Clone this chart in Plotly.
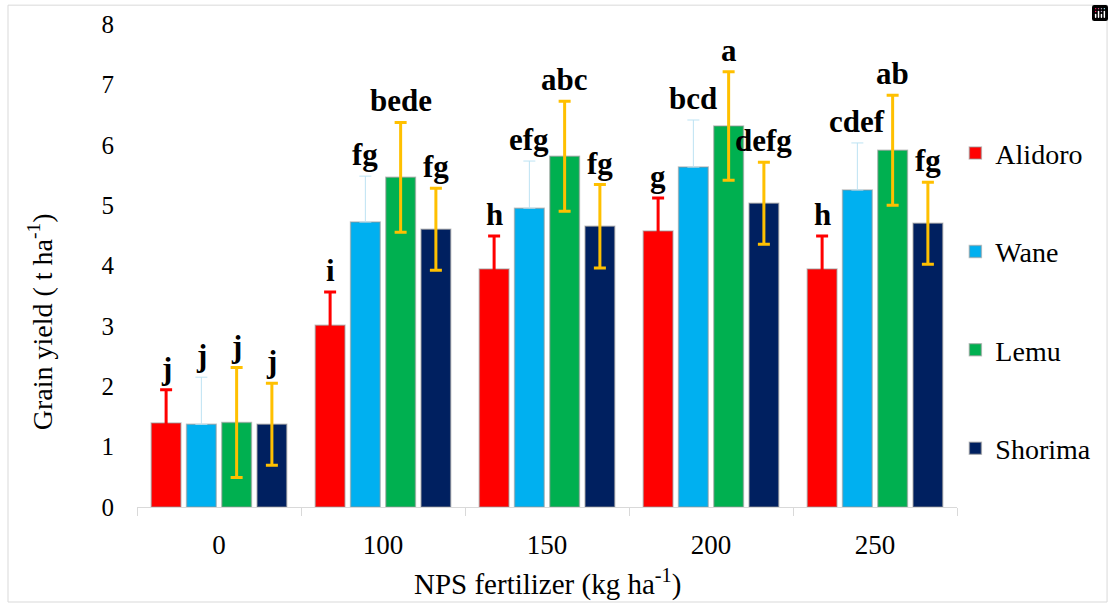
import plotly.graph_objects as go

categories = ["0", "100", "150", "200", "250"]
varieties = ["Alidoro", "Wane", "Lemu", "Shorima"]

alidoro = [1.39, 3.01, 3.94, 4.57, 3.94]
wane = [1.37, 4.72, 4.95, 5.63, 5.25]
lemu = [1.40, 5.46, 5.81, 6.31, 5.91]
shorima = [1.37, 4.60, 4.65, 5.03, 4.70]

alidoro_err = [0.55, 0.55, 0.55, 0.55, 0.55]
wane_err = [0.78, 0.76, 0.78, 0.78, 0.78]
lemu_err = [0.91, 0.91, 0.91, 0.90, 0.91]
shorima_err = [0.68, 0.68, 0.69, 0.68, 0.68]

alidoro_letters = ["j", "i", "h", "g", "h"]
wane_letters = ["j", "fg", "efg", "bcd", "cdef"]
lemu_letters = ["j", "bede", "abc", "a", "ab"]
shorima_letters = ["j", "fg", "fg", "defg", "fg"]

x_title = "NPS fertilizer (kg ha<sup>-1</sup>)"
y_title = "Grain yield ( t ha<sup>-1</sup>)"

values = [alidoro, wane, lemu, shorima]
errors = [alidoro_err, wane_err, lemu_err, shorima_err]
letters = [alidoro_letters, wane_letters, lemu_letters, shorima_letters]
colors = ["#FF0000", "#00B0F0", "#00B050", "#002060"]
err_colors = ["#FF0000", "#BDE3F3", "#FFC000", "#FFC000"]
err_thick = [3, 1, 3, 3]
show_lower = [True, False, True, True]

SERIF = "serif"
BOLD_SERIF = "Liberation Serif"

fig = go.Figure()
for k in range(4):
    err = dict(type="data", array=errors[k], visible=True,
               color=err_colors[k], thickness=err_thick[k], width=6)
    if not show_lower[k]:
        err.update(symmetric=False, arrayminus=[0] * len(errors[k]))
    fig.add_trace(go.Bar(
        name=varieties[k], x=categories, y=values[k],
        marker=dict(color=colors[k], line=dict(color="rgba(150,150,150,0.55)", width=1.5)),
        error_y=err,
        legendgroup=varieties[k],
    ))

bargap = 0.14
slot = (1 - bargap) / 4
annotations = []
for k in range(4):
    off = -(1 - bargap) / 2 + slot * (k + 0.5)
    for i in range(len(categories)):
        annotations.append(dict(
            x=i + off, y=values[k][i] + errors[k][i], xref="x", yref="y",
            text="<b>%s</b>" % letters[k][i], showarrow=False,
            yanchor="bottom", yshift=2,
            font=dict(family=BOLD_SERIF, size=31, color="black"),
        ))
annotations.append(dict(
    x=0.5, y=-0.157, xref="paper", yref="paper", text=x_title, showarrow=False,
    xanchor="center", yanchor="middle", font=dict(family=SERIF, size=29, color="black"),
))
annotations.append(dict(
    x=-0.118, y=0.383, xref="paper", yref="paper", text=y_title, showarrow=False,
    textangle=-90, xanchor="center", yanchor="middle",
    font=dict(family=SERIF, size=28, color="black"),
))

fig.update_layout(
    template="none",
    width=1114, height=607,
    margin=dict(l=137, r=157, t=24, b=100, autoexpand=False),
    paper_bgcolor="white", plot_bgcolor="white",
    barmode="group", bargap=bargap, bargroupgap=0.16,
    font=dict(family=SERIF, size=24, color="black"),
    showlegend=True,
    legend=dict(x=0.998, y=0.784, xanchor="left", yanchor="top",
                font=dict(family=SERIF, size=28, color="black"),
                tracegroupgap=59, bgcolor="rgba(0,0,0,0)"),
    modebar=dict(bgcolor="rgba(0,0,0,0)", color="rgba(0,0,0,0)", activecolor="rgba(0,0,0,0)"),
    annotations=annotations,
    shapes=[dict(type="rect", xref="paper", yref="paper",
                 x0=-0.1573, x1=1.183, y0=-0.1967, y1=1.039,
                 line=dict(color="#D9D9D9", width=1), layer="below")],
)
fig.update_xaxes(
    type="category", showline=True, linecolor="#D9D9D9", linewidth=1,
    ticks="outside", tickson="boundaries", ticklen=8, tickcolor="#D9D9D9",
    showgrid=False, zeroline=False, tickfont=dict(family=SERIF, size=27),
    ticklabelstandoff=14, automargin=False,
)
fig.update_yaxes(
    range=[0, 8], dtick=1, showline=False, showgrid=False, zeroline=False,
    ticks="", ticklabelstandoff=22, tickfont=dict(family=SERIF, size=25), automargin=False,
)

fig.write_html("out.html",
               post_script="document.body.style.margin='0';document.body.style.padding='0';")
